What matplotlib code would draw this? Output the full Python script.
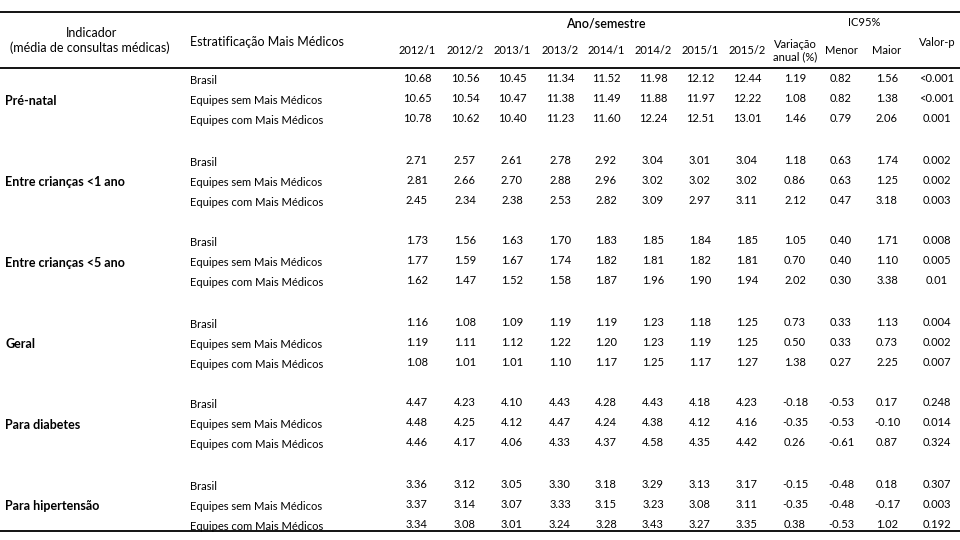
import matplotlib
matplotlib.use('Agg')
import matplotlib.pyplot as plt

plt.rcParams['font.family'] = ['Lato', 'DejaVu Sans']

periodos = ['2012/1', '2012/2', '2013/1', '2013/2', '2014/1', '2014/2', '2015/1', '2015/2']
estratos = ['Brasil', 'Equipes sem Mais Médicos', 'Equipes com Mais Médicos']
indicadores = ['Pré-natal', 'Entre crianças <1 ano', 'Entre crianças <5 ano',
               'Geral', 'Para diabetes', 'Para hipertensão']

# medias por semestre, uma lista por estrato
pre_natal = [[10.68, 10.56, 10.45, 11.34, 11.52, 11.98, 12.12, 12.44],
             [10.65, 10.54, 10.47, 11.38, 11.49, 11.88, 11.97, 12.22],
             [10.78, 10.62, 10.40, 11.23, 11.60, 12.24, 12.51, 13.01]]
criancas_1 = [[2.71, 2.57, 2.61, 2.78, 2.92, 3.04, 3.01, 3.04],
              [2.81, 2.66, 2.70, 2.88, 2.96, 3.02, 3.02, 3.02],
              [2.45, 2.34, 2.38, 2.53, 2.82, 3.09, 2.97, 3.11]]
criancas_5 = [[1.73, 1.56, 1.63, 1.70, 1.83, 1.85, 1.84, 1.85],
              [1.77, 1.59, 1.67, 1.74, 1.82, 1.81, 1.82, 1.81],
              [1.62, 1.47, 1.52, 1.58, 1.87, 1.96, 1.90, 1.94]]
geral = [[1.16, 1.08, 1.09, 1.19, 1.19, 1.23, 1.18, 1.25],
         [1.19, 1.11, 1.12, 1.22, 1.20, 1.23, 1.19, 1.25],
         [1.08, 1.01, 1.01, 1.10, 1.17, 1.25, 1.17, 1.27]]
diabetes = [[4.47, 4.23, 4.10, 4.43, 4.28, 4.43, 4.18, 4.23],
            [4.48, 4.25, 4.12, 4.47, 4.24, 4.38, 4.12, 4.16],
            [4.46, 4.17, 4.06, 4.33, 4.37, 4.58, 4.35, 4.42]]
hipertensao = [[3.36, 3.12, 3.05, 3.30, 3.18, 3.29, 3.13, 3.17],
               [3.37, 3.14, 3.07, 3.33, 3.15, 3.23, 3.08, 3.11],
               [3.34, 3.08, 3.01, 3.24, 3.28, 3.43, 3.27, 3.35]]

variacao = [[1.19, 1.08, 1.46], [1.18, 0.86, 2.12], [1.05, 0.70, 2.02],
            [0.73, 0.50, 1.38], [-0.18, -0.35, 0.26], [-0.15, -0.35, 0.38]]
ic_menor = [[0.82, 0.82, 0.79], [0.63, 0.63, 0.47], [0.40, 0.40, 0.30],
            [0.33, 0.33, 0.27], [-0.53, -0.53, -0.61], [-0.48, -0.48, -0.53]]
ic_maior = [[1.56, 1.38, 2.06], [1.74, 1.25, 3.18], [1.71, 1.10, 3.38],
            [1.13, 0.73, 2.25], [0.17, -0.10, 0.87], [0.18, -0.17, 1.02]]
valor_p = [['<0.001', '<0.001', '0.001'], ['0.002', '0.002', '0.003'],
           ['0.008', '0.005', '0.01'], ['0.004', '0.002', '0.007'],
           ['0.248', '0.014', '0.324'], ['0.307', '0.003', '0.192']]

medias = [pre_natal, criancas_1, criancas_5, geral, diabetes, hipertensao]

fig = plt.figure(figsize=(9.6, 5.4), dpi=100)
ax = fig.add_axes([0, 0, 1, 1])
ax.set_xlim(0, 960)
ax.set_ylim(540, 0)
ax.axis('off')

col_x = [417, 465, 512, 560, 606, 653, 700, 747]
x_var, x_menor, x_maior, x_p = 795, 841, 887, 937
fs = 8

# linhas horizontais
for y in (12, 68, 531):
    ax.plot([0, 960], [y, y], color='black', lw=1.3)

# cabecalho
ax.text(92, 33, 'Indicador', ha='center', va='center', fontsize=9)
ax.text(90, 48, '(média de consultas médicas)', ha='center', va='center', fontsize=9)
ax.text(190, 42, 'Estratificação Mais Médicos', ha='left', va='center', fontsize=9)
ax.text(606, 23, 'Ano/semestre', ha='center', va='center', fontsize=9, fontweight='semibold')
ax.text(864, 22, 'IC95%', ha='center', va='center', fontsize=fs)
for x, p in zip(col_x, periodos):
    ax.text(x, 50, p, ha='center', va='center', fontsize=fs)
ax.text(x_var, 45, 'Variação', ha='center', va='center', fontsize=fs)
ax.text(x_var, 57, 'anual (%)', ha='center', va='center', fontsize=fs)
ax.text(x_menor, 50, 'Menor', ha='center', va='center', fontsize=fs)
ax.text(x_maior, 50, 'Maior', ha='center', va='center', fontsize=fs)
ax.text(x_p, 43, 'Valor-p', ha='center', va='center', fontsize=fs)

# corpo da tabela
y0, passo_linha, passo_grupo = 80, 20, 81
for g, nome in enumerate(indicadores):
    yg = y0 + g * passo_grupo
    ax.text(5, yg + passo_linha + 1, nome, ha='left', va='center',
            fontsize=9, fontweight='bold')
    for r, estrato in enumerate(estratos):
        y = yg + r * passo_linha
        ax.text(190, y + 1, estrato, ha='left', va='center', fontsize=fs)
        for x, v in zip(col_x, medias[g][r]):
            ax.text(x, y - 1, f'{v:.2f}', ha='center', va='center', fontsize=fs)
        ax.text(x_var, y - 1, f'{variacao[g][r]:.2f}', ha='center', va='center', fontsize=fs)
        ax.text(x_menor, y - 1, f'{ic_menor[g][r]:.2f}', ha='center', va='center', fontsize=fs)
        ax.text(x_maior, y - 1, f'{ic_maior[g][r]:.2f}', ha='center', va='center', fontsize=fs)
        ax.text(x_p, y - 1, valor_p[g][r], ha='center', va='center', fontsize=fs)

fig.savefig('out.png', dpi=100)
